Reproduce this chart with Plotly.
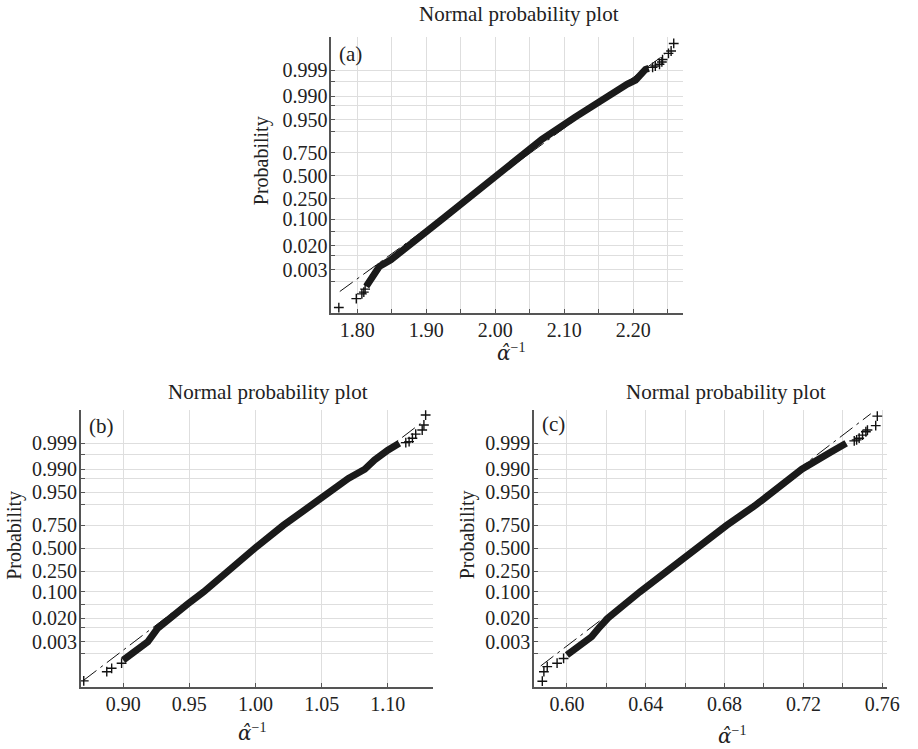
import plotly.graph_objects as go
from statistics import NormalDist

_nd = NormalDist()


def probit(ps):
    return [_nd.inv_cdf(p) for p in ps]


# ---------------- data ----------------
prob_ticks = [0.001, 0.003, 0.01, 0.02, 0.05, 0.10, 0.25, 0.50, 0.75, 0.90, 0.95, 0.98, 0.99, 0.997, 0.999]
prob_labels = ["", "0.003", "", "0.020", "", "0.100", "0.250", "0.500", "0.750", "", "0.950", "", "0.990", "", "0.999"]

# panel (a)
a_band_x = [1.813, 1.8176, 1.8248, 1.8319, 1.8486, 1.877, 1.900, 1.9247, 1.9723, 2.020,
            2.0676, 2.1152, 2.1629, 2.1914, 2.2033, 2.2104, 2.2176, 2.2224]
a_band_p = [0.000597, 0.000968, 0.00248, 0.0039, 0.0069, 0.0238, 0.0505, 0.1064, 0.3199, 0.6229,
            0.8563, 0.9561, 0.99036, 0.99632, 0.99744, 0.99861, 0.999064, 0.999156]
a_tail_x = [1.7733, 1.7986, 1.8067, 1.8095, 1.8114, 2.2280, 2.2319, 2.2380, 2.2414, 2.2424, 2.2510, 2.2548, 2.2586]
a_tail_p = [0.0000566, 0.000159, 0.000270, 0.000325, 0.000449, 0.99924, 0.999337, 0.999444, 0.999566, 0.999663,
            0.999828, 0.999869, 0.999946]
a_ref_x = [1.7747, 1.9597, 2.0515, 2.2462]
a_ref_p = [0.000349, 0.25, 0.75, 0.999815]
a_xticks = [1.80, 1.85, 1.90, 1.95, 2.00, 2.05, 2.10, 2.15, 2.20, 2.25]
a_xlabels = ["1.80", "", "1.90", "", "2.00", "", "2.10", "", "2.20", ""]

# panel (b)
b_band_x = [0.900, 0.9062, 0.9136, 0.9186, 0.9261, 0.9348, 0.9485, 0.9609, 0.9785, 0.9994, 1.0210,
            1.0429, 1.0541, 1.0702, 1.0826, 1.090, 1.100, 1.1087]
b_band_p = [0.0005, 0.001, 0.00187, 0.00298, 0.00938, 0.02, 0.05, 0.10, 0.25, 0.50, 0.75,
            0.90, 0.95, 0.98, 0.99, 0.99534, 0.99807, 0.999]
b_tail_x = [0.8702, 0.8876, 0.8913, 0.8988, 1.1136, 1.1161, 1.1186, 1.1211, 1.1260, 1.1273, 1.1286]
b_tail_p = [0.0000481, 0.000142, 0.000208, 0.000362, 0.999064, 0.999156, 0.999403, 0.999611, 0.999749,
            0.999858, 0.999956]
b_ref_x = [0.8702, 0.9783, 1.0237, 1.1246]
b_ref_p = [0.0000522, 0.25, 0.75, 0.999879]
b_xticks = [0.90, 0.95, 1.00, 1.05, 1.10]
b_xlabels = ["0.90", "0.95", "1.00", "1.05", "1.10"]

# panel (c)
c_band_x = [0.600, 0.6058, 0.6125, 0.6167, 0.6208, 0.6370, 0.6508, 0.6650, 0.6810, 0.6960, 0.7045,
            0.7192, 0.7342, 0.7367, 0.7417]
c_band_p = [0.000844, 0.00187, 0.00466, 0.01044, 0.02, 0.10, 0.25, 0.50, 0.75, 0.90, 0.95,
            0.99, 0.99774, 0.99836, 0.999]
c_tail_x = [0.5875, 0.5883, 0.5900, 0.5950, 0.5983, 0.7458, 0.7470, 0.7483, 0.7500, 0.7517, 0.7525,
            0.7567, 0.7575]
c_tail_p = [0.0000462, 0.000142, 0.000251, 0.000362, 0.000597, 0.999212, 0.99929, 0.999403, 0.999566,
            0.999698, 0.999749, 0.999847, 0.99995]
c_ref_x = [0.5867, 0.6496, 0.6800, 0.7542]
c_ref_p = [0.00027, 0.25, 0.75, 0.9999625]
c_xticks = [0.60, 0.62, 0.64, 0.66, 0.68, 0.70, 0.72, 0.74, 0.76]
c_xlabels = ["0.60", "", "0.64", "", "0.68", "", "0.72", "", "0.76"]

panel_names = ["(a)", "(b)", "(c)"]
title_text = "Normal probability plot"
ylabel_text = "Probability"
xlabel_text = ('<span style="font-family:\'DejaVu Serif\';font-style:italic">α\u0302</span>'
               '<sup>−1</sup>')

# ---------------- styling / layout ----------------
W, H = 918, 749
FONT = "Liberation Serif"
TXT = "#222222"
AXC = "#555555"
GRID = "#dedede"


def px_x(v):
    return v / W


def px_y(v):
    return 1 - v / H


panels = [
    dict(band=(a_band_x, a_band_p), tail=(a_tail_x, a_tail_p), ref=(a_ref_x, a_ref_p),
         xt=(a_xticks, a_xlabels), xr=[1.7623, 2.2723], yr=[-4.02, 4.06],
         box=(336, 693, 37, 313), title=(526, 14), ylab=(265, 161), xlab=(518, 352), tag=(342, 54)),
    dict(band=(b_band_x, b_band_p), tail=(b_tail_x, b_tail_p), ref=(b_ref_x, b_ref_p),
         xt=(b_xticks, b_xlabels), xr=[0.868, 1.134], yr=[-4.08, 4.07],
         box=(82, 439, 410, 687), title=(272, 392), ylab=(14, 535), xlab=(256, 732), tag=(88, 426)),
    dict(band=(c_band_x, c_band_p), tail=(c_tail_x, c_tail_p), ref=(c_ref_x, c_ref_p),
         xt=(c_xticks, c_xlabels), xr=[0.5833, 0.7622], yr=[-4.08, 4.07],
         box=(541.7, 899.3, 410, 687), title=(736, 392), ylab=(474, 535), xlab=(743, 735), tag=(548, 424)),
]

fig = go.Figure()
annotations = []
layout_axes = {}
DASHDOT = "16px,5px,3px,5px"

for i, pn in enumerate(panels):
    k = "" if i == 0 else str(i + 1)
    xa, ya = "x" + k, "y" + k
    rx, rp = pn["ref"]
    rz = probit(rp)
    # reference line: dash-dot outside the quartiles, solid between them
    fig.add_trace(go.Scatter(x=[rx[0], rx[1]], y=[rz[0], rz[1]], mode="lines", xaxis=xa, yaxis=ya,
                             line=dict(color="#111111", width=1, dash=DASHDOT),
                             showlegend=False, hoverinfo="skip"))
    fig.add_trace(go.Scatter(x=[rx[1], rx[2]], y=[rz[1], rz[2]], mode="lines", xaxis=xa, yaxis=ya,
                             line=dict(color="#111111", width=1), showlegend=False, hoverinfo="skip"))
    fig.add_trace(go.Scatter(x=[rx[2], rx[3]], y=[rz[2], rz[3]], mode="lines", xaxis=xa, yaxis=ya,
                             line=dict(color="#111111", width=1, dash=DASHDOT),
                             showlegend=False, hoverinfo="skip"))
    bx, bp = pn["band"]
    fig.add_trace(go.Scatter(x=bx, y=probit(bp), mode="lines", xaxis=xa, yaxis=ya,
                             line=dict(color="#1a1a1a", width=7), showlegend=False))
    tx, tp = pn["tail"]
    fig.add_trace(go.Scatter(x=tx, y=probit(tp), mode="markers", xaxis=xa, yaxis=ya,
                             marker=dict(symbol="cross-thin", size=7, line=dict(width=1.4, color="#111111")),
                             showlegend=False))

    x0, x1, y0, y1 = pn["box"]
    common = dict(showgrid=True, gridcolor=GRID, gridwidth=1.2, zeroline=False, showline=True,
                  linecolor=AXC, linewidth=1.6, ticks="inside", ticklen=4, tickcolor=AXC, tickwidth=1,
                  tickfont=dict(family=FONT, size=20, color=TXT), mirror=False, ticklabelstandoff=-2)
    layout_axes["xaxis" + k] = dict(common, domain=[px_x(x0), px_x(x1)], range=pn["xr"],
                                    tickmode="array", tickvals=pn["xt"][0], ticktext=pn["xt"][1],
                                    anchor=ya)
    layout_axes["yaxis" + k] = dict(common, domain=[px_y(y1), px_y(y0)], range=pn["yr"],
                                    tickmode="array", tickvals=probit(prob_ticks), ticktext=prob_labels,
                                    anchor=xa)

    tx_, ty_ = pn["title"]
    annotations.append(dict(text=title_text, x=px_x(tx_), y=px_y(ty_), xref="paper", yref="paper",
                            showarrow=False, xanchor="center", yanchor="middle",
                            font=dict(family=FONT, size=21, color=TXT)))
    lx, ly = pn["ylab"]
    annotations.append(dict(text=ylabel_text, x=px_x(lx), y=px_y(ly), xref="paper", yref="paper",
                            showarrow=False, xanchor="center", yanchor="middle", textangle=-90,
                            borderpad=0, font=dict(family=FONT, size=20, color=TXT)))
    xlx, xly = pn["xlab"]
    annotations.append(dict(text=xlabel_text, x=px_x(xlx), y=px_y(xly), xref="paper", yref="paper",
                            showarrow=False, xanchor="center", yanchor="middle",
                            font=dict(family=FONT, size=20, color=TXT)))
    gx, gy = pn["tag"]
    annotations.append(dict(text=panel_names[i], x=px_x(gx), y=px_y(gy), xref="paper", yref="paper",
                            showarrow=False, xanchor="left", yanchor="middle",
                            font=dict(family=FONT, size=21, color=TXT)))

fig.update_layout(width=W, height=H, margin=dict(l=0, r=0, t=0, b=0), paper_bgcolor="white",
                  plot_bgcolor="white", annotations=annotations, **layout_axes)

fig.write_html("out.html")
